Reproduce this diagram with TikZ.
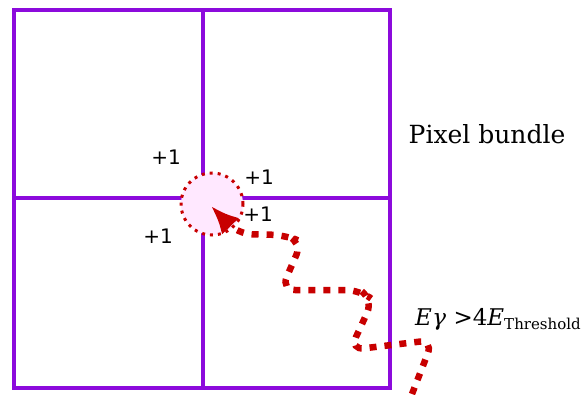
\documentclass[tikz,border=0pt]{standalone}
\usepackage{fontspec}
\setmainfont{DejaVu Serif}
\setsansfont{DejaVu Sans}
\usetikzlibrary{arrows.meta}
\definecolor{pixviolet}{RGB}{140,10,220}
\definecolor{photonred}{RGB}{200,0,0}
\definecolor{hitpink}{RGB}{255,232,255}
\tikzset{
  pixline/.style={draw=pixviolet,line width=4pt},
  countlabel/.style={font=\sffamily\fontsize{20}{20}\selectfont,inner sep=0pt},
  photon/.style={draw=photonred,line width=6.5pt,dash pattern=on 7pt off 8pt,rounded corners=14pt},
}
\begin{document}
\begin{tikzpicture}[x=1pt,y=-1pt]
  \useasboundingbox (0,0) rectangle (581,394);
  % Pixel grid
  \draw[pixline] (14,10) rectangle (390,388);
  \draw[pixline] (203,10) -- (203,388);
  \draw[pixline] (14,198) -- (390,198);
  % Charge cloud
  \node[circle,minimum size=62pt,inner sep=0pt,fill=hitpink,draw=photonred,
        line width=3pt,dash pattern=on 3pt off 5pt] (cloud) at (212,204) {};
  % Counts
  \node[countlabel] (cnttl) at (166,157) {+1};
  \node[countlabel] (cnttr) at (259,177) {+1};
  \node[countlabel] (cntbr) at (258,214) {+1};
  \node[countlabel] (cntbl) at (158,236) {+1};
  % Labels
  \node[font=\fontsize{25}{25}\selectfont] (bundle) at (487,134) {Pixel bundle};
  \node[anchor=base west,inner sep=0pt,font=\fontsize{23}{23}\selectfont] (energy) at (415,325)
    {{\itshape E\kern0.5ptγ} >4{\itshape E}\raisebox{-0.35ex}{\fontsize{15}{15}\selectfont Threshold}};
  % Photon track
  \coordinate (tip) at (211,206);
  \coordinate (start) at (412,394);
  \draw[photon,-{Latex[length=28pt,width=24pt]}] (start) -- (433,340) -- (350,350)
    -- (373,300) -- (360,290) -- (281,290) -- (302,242) -- (285,235) -- (238,234) -- (tip);
\end{tikzpicture}
\end{document}
